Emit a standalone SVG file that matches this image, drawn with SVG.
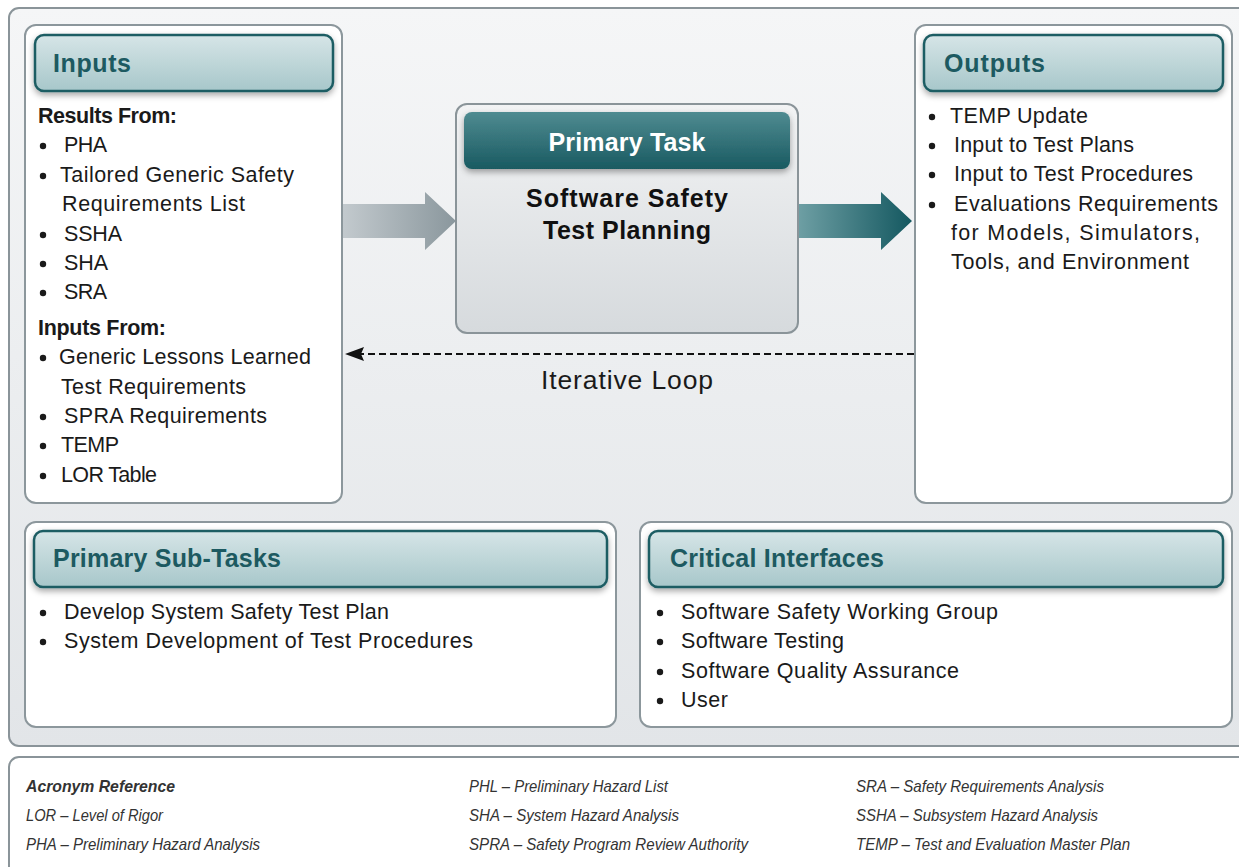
<svg xmlns="http://www.w3.org/2000/svg" width="1239" height="867" viewBox="0 0 1239 867">
<defs>
  <linearGradient id="panelG" x1="0" y1="0" x2="0" y2="1">
    <stop offset="0" stop-color="#f5f6f7"/>
    <stop offset="1" stop-color="#e2e5e8"/>
  </linearGradient>
  <linearGradient id="hdrG" x1="0" y1="0" x2="0" y2="1">
    <stop offset="0" stop-color="#d6e5e7"/>
    <stop offset="1" stop-color="#a7c7ca"/>
  </linearGradient>
  <linearGradient id="taskG" x1="0" y1="0" x2="0" y2="1">
    <stop offset="0" stop-color="#f2f3f4"/>
    <stop offset="1" stop-color="#d6dadd"/>
  </linearGradient>
  <linearGradient id="taskHdrG" x1="0" y1="0" x2="0" y2="1">
    <stop offset="0" stop-color="#4f8b91"/>
    <stop offset="1" stop-color="#195a61"/>
  </linearGradient>
  <linearGradient id="grayArrow" x1="0" y1="0" x2="1" y2="0">
    <stop offset="0" stop-color="#c3cace"/>
    <stop offset="1" stop-color="#8a979d"/>
  </linearGradient>
  <linearGradient id="tealArrow" x1="0" y1="0" x2="1" y2="0">
    <stop offset="0" stop-color="#6e9fa4"/>
    <stop offset="1" stop-color="#145860"/>
  </linearGradient>
  <filter id="sh" x="-5%" y="-20%" width="110%" height="150%">
    <feDropShadow dx="0" dy="3" stdDeviation="3" flood-color="#000" flood-opacity="0.35"/>
  </filter>
  <style>
    .box { fill: #ffffff; stroke: #8c979c; stroke-width: 2; }
    .hdr { fill: url(#hdrG); stroke: #1e5d64; stroke-width: 2.5; filter: url(#sh); }
    .hdrT { font-family: "Liberation Sans", Arial, sans-serif; font-weight: bold; font-size: 25px; fill: #1d5a61; }
    .t { font-family: "Liberation Sans", Arial, sans-serif; font-size: 21.5px; fill: #1a1a1a; }
    .b { font-weight: bold; }
    .big { font-family: "Liberation Sans", Arial, sans-serif; font-weight: bold; font-size: 25px; fill: #111; text-anchor: middle; }
    .ptT { font-family: "Liberation Sans", Arial, sans-serif; font-weight: bold; font-size: 25px; fill: #ffffff; text-anchor: middle; }
    .ac { font-family: "Liberation Sans", Arial, sans-serif; font-style: italic; font-size: 17px; fill: #333; }
    .dot { fill: #1a1a1a; }
  </style>
</defs>

<g id="panel">
  <rect x="9" y="8" width="1250" height="738" rx="10" fill="url(#panelG)" stroke="#8a9499" stroke-width="2"/>
</g>

<g id="connectors">
  <path d="M342,204 L425,204 L425,192 L456,221 L425,250 L425,238 L342,238 Z" fill="url(#grayArrow)"/>
  <path d="M798,204 L881,204 L881,192 L912,221 L881,250 L881,238 L798,238 Z" fill="url(#tealArrow)"/>
  <line x1="914" y1="354" x2="356" y2="354" stroke="#111" stroke-width="2" stroke-dasharray="7,4"/>
  <path d="M345,354 L364,347 L361,354 L364,361 Z" fill="#111"/>
  <text class="t" x="627" y="389" text-anchor="middle" style="font-size:26.5px" textLength="172">Iterative Loop</text>
</g>

<g id="inputs">
  <rect class="box" x="25" y="25" width="317" height="478" rx="11"/>
  <rect class="hdr" x="35" y="35" width="298" height="56" rx="9"/>
  <text class="hdrT" x="53" y="72" textLength="78">Inputs</text>
  <text class="t b" x="38" y="123" textLength="139">Results From:</text>
  <circle class="dot" cx="43" cy="146" r="3.2"/>
  <text class="t" x="64" y="152" textLength="43">PHA</text>
  <circle class="dot" cx="43" cy="176" r="3.2"/>
  <text class="t" x="60" y="182" textLength="234">Tailored Generic Safety</text>
  <text class="t" x="62" y="211" textLength="183">Requirements List</text>
  <circle class="dot" cx="43" cy="235" r="3.2"/>
  <text class="t" x="64" y="241" textLength="58">SSHA</text>
  <circle class="dot" cx="43" cy="264" r="3.2"/>
  <text class="t" x="64" y="270" textLength="44">SHA</text>
  <circle class="dot" cx="43" cy="293" r="3.2"/>
  <text class="t" x="64" y="299" textLength="43">SRA</text>
  <text class="t b" x="38" y="335" textLength="128">Inputs From:</text>
  <circle class="dot" cx="43" cy="358" r="3.2"/>
  <text class="t" x="59" y="364" textLength="252">Generic Lessons Learned</text>
  <text class="t" x="61" y="394" textLength="185">Test Requirements</text>
  <circle class="dot" cx="43" cy="417" r="3.2"/>
  <text class="t" x="64" y="423" textLength="203">SPRA Requirements</text>
  <circle class="dot" cx="43" cy="446" r="3.2"/>
  <text class="t" x="61" y="452" textLength="58">TEMP</text>
  <circle class="dot" cx="43" cy="476" r="3.2"/>
  <text class="t" x="61" y="482" textLength="96">LOR Table</text>
</g>

<g id="primary-task">
  <rect x="456" y="104" width="342" height="229" rx="11" fill="url(#taskG)" stroke="#8a9499" stroke-width="2"/>
  <rect x="464" y="112" width="326" height="57" rx="8" fill="url(#taskHdrG)" filter="url(#sh)"/>
  <text class="ptT" x="627" y="151" textLength="157">Primary Task</text>
  <text class="big" x="627" y="207" textLength="202">Software Safety</text>
  <text class="big" x="627" y="239" textLength="168">Test Planning</text>
</g>

<g id="outputs">
  <rect class="box" x="915" y="25" width="317" height="478" rx="11"/>
  <rect class="hdr" x="924" y="35" width="299" height="56" rx="9"/>
  <text class="hdrT" x="944" y="72" textLength="101">Outputs</text>
  <circle class="dot" cx="932" cy="117" r="3.2"/>
  <text class="t" x="950" y="123" textLength="138">TEMP Update</text>
  <circle class="dot" cx="932" cy="146" r="3.2"/>
  <text class="t" x="954" y="152" textLength="180">Input to Test Plans</text>
  <circle class="dot" cx="932" cy="175" r="3.2"/>
  <text class="t" x="954" y="181" textLength="239">Input to Test Procedures</text>
  <circle class="dot" cx="932" cy="205" r="3.2"/>
  <text class="t" x="954" y="211" textLength="264">Evaluations Requirements</text>
  <text class="t" x="951" y="240" textLength="249">for Models, Simulators,</text>
  <text class="t" x="951" y="269" textLength="238">Tools, and Environment</text>
</g>

<g id="sub-tasks">
  <rect class="box" x="25" y="522" width="591" height="205" rx="11"/>
  <rect class="hdr" x="34" y="531" width="573" height="56" rx="9"/>
  <text class="hdrT" x="53" y="567" textLength="228">Primary Sub-Tasks</text>
  <circle class="dot" cx="43" cy="613" r="3.2"/>
  <text class="t" x="64" y="619" textLength="325">Develop System Safety Test Plan</text>
  <circle class="dot" cx="43" cy="642" r="3.2"/>
  <text class="t" x="64" y="648" textLength="409">System Development of Test Procedures</text>
</g>

<g id="critical-interfaces">
  <rect class="box" x="640" y="522" width="592" height="205" rx="11"/>
  <rect class="hdr" x="649" y="531" width="574" height="56" rx="9"/>
  <text class="hdrT" x="670" y="567" textLength="214">Critical Interfaces</text>
  <circle class="dot" cx="660" cy="613" r="3.2"/>
  <text class="t" x="681" y="619" textLength="317">Software Safety Working Group</text>
  <circle class="dot" cx="660" cy="642" r="3.2"/>
  <text class="t" x="681" y="648" textLength="163">Software Testing</text>
  <circle class="dot" cx="660" cy="672" r="3.2"/>
  <text class="t" x="681" y="678" textLength="278">Software Quality Assurance</text>
  <circle class="dot" cx="660" cy="701" r="3.2"/>
  <text class="t" x="681" y="707" textLength="47">User</text>
</g>

<g id="acronyms">
  <rect x="9" y="757" width="1250" height="130" rx="10" fill="#ffffff" stroke="#8a9499" stroke-width="2"/>
  <text class="ac" x="26" y="792" font-weight="bold" fill="#111" textLength="149" lengthAdjust="spacingAndGlyphs">Acronym Reference</text>
  <text class="ac" x="26" y="821" textLength="137" lengthAdjust="spacingAndGlyphs">LOR – Level of Rigor</text>
  <text class="ac" x="26" y="850" textLength="234" lengthAdjust="spacingAndGlyphs">PHA – Preliminary Hazard Analysis</text>
  <text class="ac" x="469" y="792" textLength="199" lengthAdjust="spacingAndGlyphs">PHL – Preliminary Hazard List</text>
  <text class="ac" x="469" y="821" textLength="210" lengthAdjust="spacingAndGlyphs">SHA – System Hazard Analysis</text>
  <text class="ac" x="469" y="850" textLength="279" lengthAdjust="spacingAndGlyphs">SPRA – Safety Program Review Authority</text>
  <text class="ac" x="856" y="792" textLength="248" lengthAdjust="spacingAndGlyphs">SRA – Safety Requirements Analysis</text>
  <text class="ac" x="856" y="821" textLength="242" lengthAdjust="spacingAndGlyphs">SSHA – Subsystem Hazard Analysis</text>
  <text class="ac" x="856" y="850" textLength="274" lengthAdjust="spacingAndGlyphs">TEMP – Test and Evaluation Master Plan</text>
</g>
</svg>
